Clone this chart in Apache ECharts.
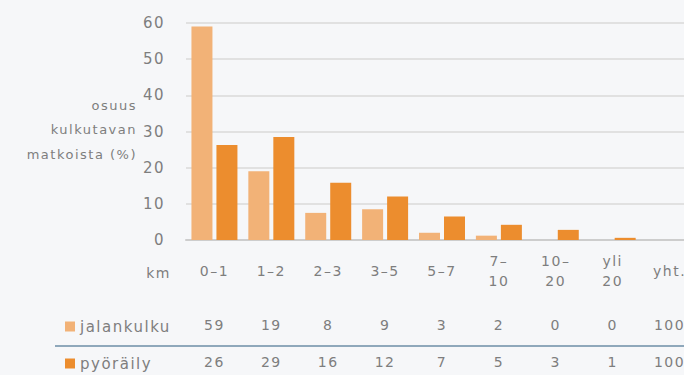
<!DOCTYPE html>
<html>
<head>
<meta charset="utf-8">
<script src="https://cdn.jsdelivr.net/npm/echarts@6/dist/echarts.min.js"></script>
<style>
html, body { margin: 0; background: #f6f7f9; }
#chart { width: 684px; height: 375px; letter-spacing: 1.5px; }
</style>
</head>
<body>
<div id="chart"></div>
<script>
// etäisyysluokat (km)
var categories = ['0–1', '1–2', '2–3', '3–5', '5–7', '7–\n10', '10–\n20', 'yli\n20', 'yht.'];
// pylväiden korkeudet kuvasta luettuna (%)
var walkBars = [59, 19, 7.5, 8.5, 2, 1.2, 0, 0];
var bikeBars = [26.3, 28.5, 15.8, 12, 6.5, 4.2, 2.8, 0.6];
// taulukon luvut
var walkTable = ['59', '19', '8', '9', '3', '2', '0', '0', '100'];
var bikeTable = ['26', '29', '16', '12', '7', '5', '3', '1', '100'];
// y-akseli
var yTicks = [0, 10, 20, 30, 40, 50, 60];
var yName = ['osuus', 'kulkutavan', 'matkoista (%)'];

var textColor = '#7e7e7e';
var font = 'DejaVu Sans';

var chart = echarts.init(document.getElementById('chart'), null, { renderer: 'svg' });

function tableAxis(data, margin) {
  return {
    type: 'category',
    gridIndex: 0,
    position: 'bottom',
    data: data,
    axisLine: { show: false },
    axisTick: { show: false },
    splitLine: { show: false },
    axisLabel: {
      interval: 0,
      margin: margin,
      verticalAlign: 'middle',
      color: textColor,
      fontFamily: font,
      fontSize: 14
    }
  };
}

// y-akselin nimi kolmelle riville, oikealle tasattuna
var nameTexts = yName.map(function (t, i) {
  return {
    type: 'text', x: 137, y: 105 + i * 24.5,
    style: {
      text: t, align: 'right', verticalAlign: 'middle',
      fill: textColor, font: '13px "DejaVu Sans"'
    }
  };
});

var option = {
  backgroundColor: '#f6f7f9',
  animation: false,
  grid: { left: 186, top: 23, width: 512, height: 217, outerBoundsMode: 'none' },
  legend: [
    {
      data: ['jalankulku'], left: 60, top: 314, icon: 'rect',
      itemWidth: 10, itemHeight: 10, selectedMode: false,
      textStyle: { color: textColor, fontFamily: font, fontSize: 15 }
    },
    {
      data: ['pyöräily'], left: 60, top: 351, icon: 'rect',
      itemWidth: 10, itemHeight: 10, selectedMode: false,
      textStyle: { color: textColor, fontFamily: font, fontSize: 15 }
    }
  ],
  xAxis: [
    {
      type: 'category',
      data: categories,
      axisLine: { lineStyle: { color: '#cdcdcd', width: 2 } },
      axisTick: { show: false },
      axisLabel: {
        interval: 0,
        margin: 31,
        verticalAlign: 'middle',
        lineHeight: 20,
        color: textColor,
        fontFamily: font,
        fontSize: 14
      }
    },
    tableAxis(walkTable, 85),
    tableAxis(bikeTable, 122)
  ],
  yAxis: {
    type: 'value',
    min: yTicks[0],
    max: yTicks[yTicks.length - 1],
    interval: 10,
    axisLine: { show: false },
    axisTick: { show: false },
    axisLabel: { margin: 21, color: textColor, fontFamily: font, fontSize: 15 },
    splitLine: { lineStyle: { color: '#e1e1e1', width: 2 } }
  },
  graphic: nameTexts.concat([
    {
      type: 'text', x: 171, y: 273,
      style: { text: 'km', align: 'right', verticalAlign: 'middle', fill: textColor, font: '14px "DejaVu Sans"' }
    },
    {
      type: 'line', shape: { x1: 55, y1: 346, x2: 684, y2: 346 },
      style: { stroke: '#8fa8bb', lineWidth: 2 }
    }
  ]),
  series: [
    {
      name: 'jalankulku', type: 'bar', data: walkBars,
      barWidth: 21, barGap: '19%',
      itemStyle: { color: '#f2b277' }
    },
    {
      name: 'pyöräily', type: 'bar', data: bikeBars,
      barWidth: 21,
      itemStyle: { color: '#ec8d2e' }
    }
  ]
};
chart.setOption(option);
</script>
</body>
</html>
